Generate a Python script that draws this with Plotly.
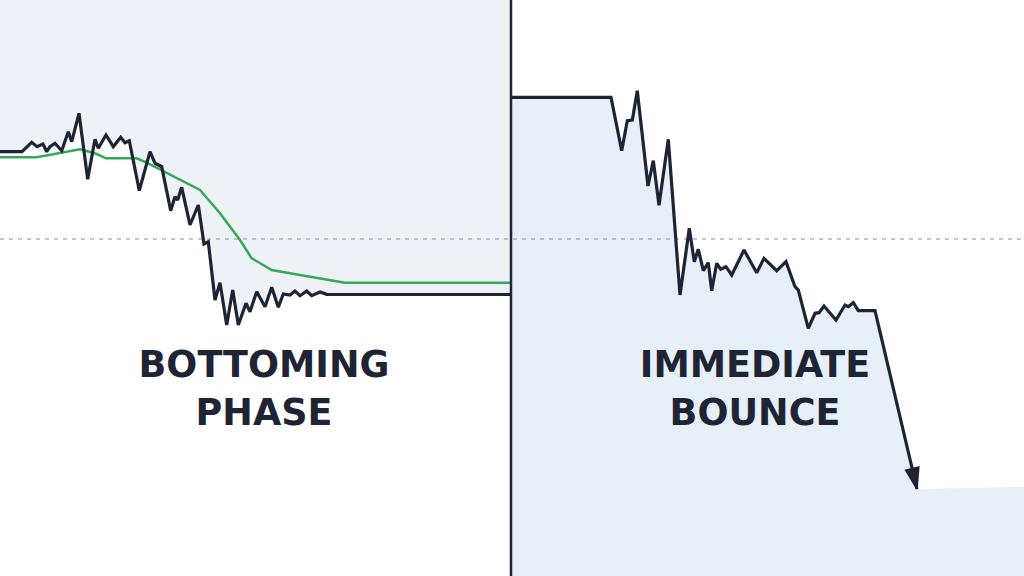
import plotly.graph_objects as go

# ---- data (time units across the canvas, price units upward) ----
left_t = [0, 22, 31.7, 37, 43, 46.7, 50, 55, 61.7, 68.3, 71.7, 79, 87.7, 95, 98.3, 106,
          113.3, 120.7, 125, 129.3, 139.3, 145, 150, 155, 161.7, 170.7, 175, 177.7, 181.7,
          190, 198.3, 204, 208.3, 215, 220, 226.7, 232.7, 238.3, 246, 250, 256.7, 265,
          271.7, 278.3, 283.3, 290, 295, 300, 306.7, 311.7, 320, 326.7, 510]
left_y_px = [151.7, 151.7, 142.3, 146.7, 144, 151.7, 146.7, 143.3, 150.7, 131.7, 141.7, 113.3,
             179.3, 139.3, 148.3, 135, 146.7, 137.3, 142.7, 140.7, 190.7, 168.3, 151.7, 163.3,
             166.7, 210.7, 196.7, 200, 187.3, 225, 205, 244, 241.7, 300, 282.7, 325, 290, 325,
             303.3, 311.7, 291.7, 306.7, 287.3, 307.3, 294, 295, 291, 295.7, 291, 295.7, 292,
             294.3, 294.5]
left_price = [round(576 - v, 1) for v in left_y_px]

avg_t = [0, 36.7, 80, 95, 106, 136.7, 146.7, 166.7, 200, 220, 240, 251.7, 271.7, 300, 345, 510]
avg_y_px = [157.3, 157.3, 149.3, 153.3, 158.3, 158.3, 162.7, 172.7, 190, 213.3, 240, 258.3,
            270, 275, 282.7, 282.7]
avg_price = [round(576 - v, 1) for v in avg_y_px]

right_t = [512, 611, 621.7, 627.3, 632.3, 637.3, 648, 653.3, 659, 668.3, 680, 689.3, 694.3,
           698.3, 703.3, 708.3, 711.7, 716.7, 720.7, 726, 731.7, 744, 756.7, 764, 776.7, 786,
           795, 798.3, 808.3, 815, 819, 824, 836, 845, 848.3, 853.3, 858.3, 875, 917]
right_y_px = [97.3, 97.3, 150.7, 120.7, 120, 90.7, 186, 160.7, 205.3, 139.3, 295, 228.3, 261.7,
              249.3, 270.7, 262.7, 290.7, 263.3, 269.3, 266.7, 275, 250, 272.7, 258.3, 270.7,
              261.7, 286.7, 290, 328.3, 313.3, 312.7, 306, 320, 305, 306.7, 302.7, 310.7, 310.7,
              489]
right_price = [round(576 - v, 1) for v in right_y_px]

tail_t = [1024]
tail_price = [576 - 487]

split_t = 511
ref_level = 576 - 239
top_level = 576
x_max = 1024

labels = ["BOTTOMING<br>PHASE", "IMMEDIATE<br>BOUNCE"]
label_t = [264, 755]
label_price = [576 - 392, 576 - 392]

INK = "#1e2434"
GREEN = "#36a85a"
LEFT_FILL = "#eef2f7"
RIGHT_FILL = "#e7eff8"

fig = go.Figure()

# left panel: shaded region above the price line
fig.add_trace(go.Scatter(
    x=left_t + [left_t[-1], left_t[0]],
    y=left_price + [top_level, top_level],
    fill="toself", fillcolor=LEFT_FILL, mode="none", hoverinfo="skip"))

# right panel: shaded region under the price line
fig.add_trace(go.Scatter(
    x=right_t + tail_t,
    y=right_price + tail_price,
    fill="tozeroy", fillcolor=RIGHT_FILL, mode="none", hoverinfo="skip"))

# reference dashed level
fig.add_trace(go.Scatter(
    x=[0, x_max], y=[ref_level, ref_level], mode="lines",
    line=dict(color="#8b9099", width=1.2, dash="4px,5px"), hoverinfo="skip"))

# moving average
fig.add_trace(go.Scatter(
    x=avg_t, y=avg_price, mode="lines",
    line=dict(color=GREEN, width=2.5), hoverinfo="skip"))

# left price line
fig.add_trace(go.Scatter(
    x=left_t, y=left_price, mode="lines",
    line=dict(color=INK, width=3.2), hoverinfo="skip"))

# right price line with arrow head
sizes = [0] * (len(right_t) - 1) + [22]
fig.add_trace(go.Scatter(
    x=right_t, y=right_price, mode="lines+markers",
    line=dict(color=INK, width=3.2),
    marker=dict(symbol="arrow", angleref="previous", size=sizes, color=INK,
                opacity=1, line=dict(color=INK, width=1.5)),
    hoverinfo="skip"))

# divider
fig.add_trace(go.Scatter(
    x=[split_t, split_t], y=[0, top_level], mode="lines",
    line=dict(color=INK, width=2.5), hoverinfo="skip"))

# labels
fig.add_trace(go.Scatter(
    x=label_t, y=label_price, mode="text", text=labels,
    textfont=dict(family="DejaVu Sans", size=36.5, color=INK, weight=700),
    textposition="middle center", hoverinfo="skip"))

fig.update_layout(
    width=1024, height=576,
    margin=dict(l=0, r=0, t=0, b=0),
    paper_bgcolor="white", plot_bgcolor="white",
    showlegend=False,
    xaxis=dict(range=[0, x_max], visible=False, fixedrange=True),
    yaxis=dict(range=[0, top_level], visible=False, fixedrange=True),
)

fig.write_html("out.html", config={"displayModeBar": False},
               post_script="document.body.style.margin='0';document.body.style.overflow='hidden';")
